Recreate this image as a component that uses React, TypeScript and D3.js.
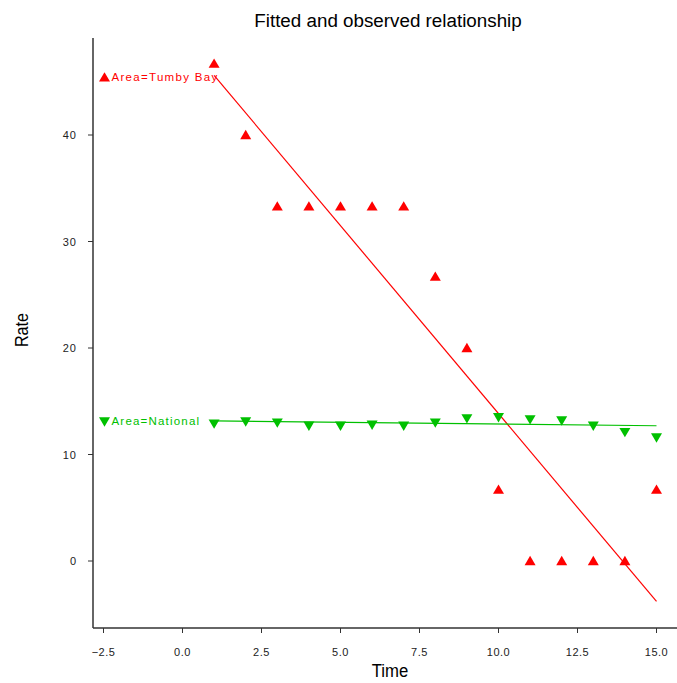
import React from "react";
import * as d3 from "d3";

const times = [1, 2, 3, 4, 5, 6, 7, 8, 9, 10, 11, 12, 13, 14, 15];
const tumbyRate = [46.7, 40, 33.3, 33.3, 33.3, 33.3, 33.3, 26.7, 20, 6.7, 0, 0, 0, 0, 6.7];
const nationalRate = [12.9, 13.1, 13.0, 12.7, 12.7, 12.8, 12.7, 13.0, 13.4, 13.5, 13.3, 13.2, 12.7, 12.1, 11.6];
const fitTimes = [1, 15];
const tumbyFit = [45.6, -3.8];
const nationalFit = [13.15, 12.7];
const xTicks = [-2.5, 0, 2.5, 5, 7.5, 10, 12.5, 15];
const yTicks = [0, 10, 20, 30, 40];
const legendX = -2.5;
const tumbyLegendY = 45.5;
const nationalLegendY = 13.1;

const W = 677;
const H = 683;
const RED = "#ff0000";
const GREEN = "#00c000";
const FONT = "'Liberation Sans', Arial, sans-serif";

export default function App() {
  const x = d3.scaleLinear().domain([-2.5, 15]).range([103.5, 656.5]);
  const y = d3.scaleLinear().domain([0, 40]).range([561, 135]);
  const axisLeft = 93;
  const axisBottom = 628;
  const axisTop = 38;

  const line = d3
    .line<[number, number]>()
    .x((d) => x(d[0]))
    .y((d) => y(d[1]));

  const downPath = (cx: number, cy: number) => {
    const s = 5.5;
    return `M${cx - s},${cy - s * 0.75}L${cx + s},${cy - s * 0.75}L${cx},${cy + s * 0.95}Z`;
  };
  const upPath = (cx: number, cy: number) => {
    const s = 5.5;
    return `M${cx - s},${cy + s * 0.75}L${cx + s},${cy + s * 0.75}L${cx},${cy - s * 0.95}Z`;
  };

  return (
    <svg width={W} height={H} style={{ position: "absolute", left: 0, top: 0, background: "#fff" }} fontFamily={FONT}>
      <rect width={W} height={H} fill="#fff" />
      <text x={388} y={27} textAnchor="middle" fontSize={19} fill="#000" transform="translate(388,0) scale(0.99,1) translate(-388,0)">
        Fitted and observed relationship
      </text>
      {/* axes */}
      <line x1={axisLeft} y1={axisTop} x2={axisLeft} y2={axisBottom} stroke="#333" strokeWidth={1.5} />
      <line x1={axisLeft} y1={axisBottom} x2={W} y2={axisBottom} stroke="#333" strokeWidth={1.5} />
      {yTicks.map((t) => (
        <g key={"y" + t}>
          <line x1={axisLeft - 5} x2={axisLeft} y1={y(t)} y2={y(t)} stroke="#333" strokeWidth={1} />
          <text x={77} y={y(t) + 4} textAnchor="end" fontSize={11} fill="#222" letterSpacing={1}>
            {d3.format("d")(t)}
          </text>
        </g>
      ))}
      {xTicks.map((t) => (
        <g key={"x" + t}>
          <line x1={x(t)} x2={x(t)} y1={axisBottom} y2={axisBottom + 5} stroke="#333" strokeWidth={1} />
          <text x={x(t)} y={656} textAnchor="middle" fontSize={11} fill="#222" letterSpacing={0.5}>
            {d3.format(".1f")(t)}
          </text>
        </g>
      ))}
      <text x={390} y={677} textAnchor="middle" fontSize={19} fill="#000" transform="translate(390,0) scale(0.88,1) translate(-390,0)">
        Time
      </text>
      <text transform="translate(28,330) rotate(-90) scale(0.85,1)" textAnchor="middle" fontSize={19} fill="#000">
        Rate
      </text>

      {/* fits */}
      <path d={line(fitTimes.map((t, i) => [t, tumbyFit[i]]) as any) || ""} stroke={RED} strokeWidth={1.2} fill="none" />
      <path d={line(fitTimes.map((t, i) => [t, nationalFit[i]]) as any) || ""} stroke={GREEN} strokeWidth={1.2} fill="none" />

      {/* points */}
      {times.map((t, i) => (
        <path key={"r" + t} d={upPath(x(t), y(tumbyRate[i]))} fill={RED} />
      ))}
      {times.map((t, i) => (
        <path key={"g" + t} d={downPath(x(t), y(nationalRate[i]))} fill={GREEN} />
      ))}

      {/* labels */}
      <path d={upPath(x(legendX) + 1, y(tumbyLegendY) + 1)} fill={RED} />
      <text x={x(legendX) + 8} y={y(tumbyLegendY) + 5} fontSize={11.5} fill={RED} letterSpacing={1.3}>
        Area=Tumby Bay
      </text>
      <path d={downPath(x(legendX) + 1, y(nationalLegendY))} fill={GREEN} />
      <text x={x(legendX) + 8} y={y(nationalLegendY) + 4} fontSize={11.5} fill={GREEN} letterSpacing={1.2}>
        Area=National
      </text>
    </svg>
  );
}
